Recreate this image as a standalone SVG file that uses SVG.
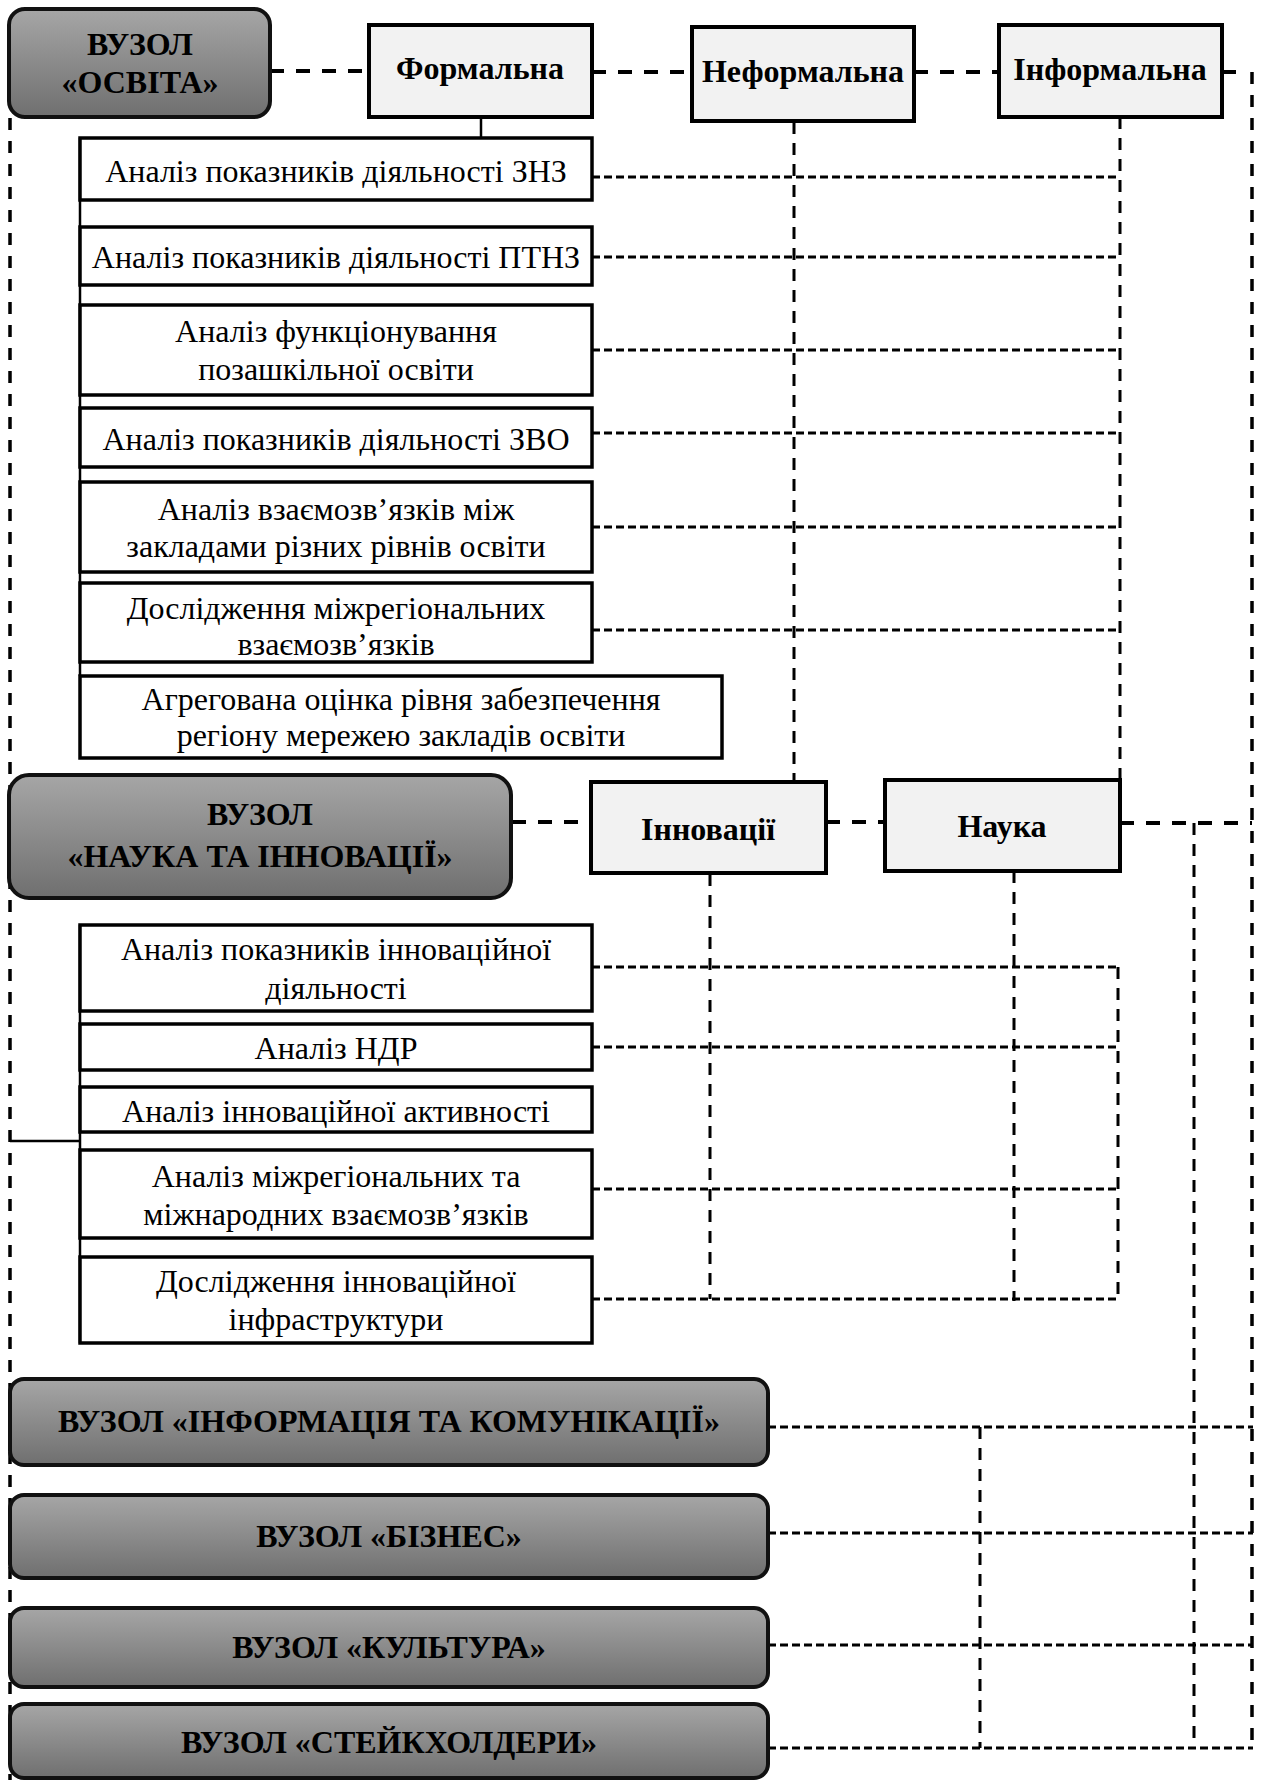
<svg xmlns="http://www.w3.org/2000/svg" width="1261" height="1780" viewBox="0 0 1261 1780">
<defs>
<linearGradient id="g" x1="0" y1="0" x2="0" y2="1">
<stop offset="0" stop-color="#a6a6a6"/>
<stop offset="1" stop-color="#6f6f6f"/>
</linearGradient>
<style>
.hub{fill:url(#g);stroke:#111;stroke-width:4}
.cat{fill:#f2f2f2;stroke:#000;stroke-width:4}
.item{fill:#fff;stroke:#000;stroke-width:3.5}
.ht{font-family:"Liberation Serif","Times New Roman",serif;font-weight:bold;font-size:32px;text-anchor:middle;fill:#000}
.it{font-family:"Liberation Serif","Times New Roman",serif;font-size:32px;text-anchor:middle;fill:#000}
.chain{fill:none;stroke:#000;stroke-width:4;stroke-dasharray:14 12}
.side{fill:none;stroke:#000;stroke-width:3.5;stroke-dasharray:12 11}
.vd{fill:none;stroke:#000;stroke-width:3;stroke-dasharray:12 9}
.hd{fill:none;stroke:#000;stroke-width:3;stroke-dasharray:8 4}
.sol{fill:none;stroke:#000;stroke-width:2.5}
</style>
</defs>
<g id="connectors">
<path class="side" d="M10 118V1780"/>
<path class="side" d="M1252 72V1748"/>
<path class="chain" d="M270 71H369"/>
<path class="chain" d="M592 72H692"/>
<path class="chain" d="M914 72H999"/>
<path class="chain" d="M1222 72H1240"/>
<path class="sol" d="M481 117V138"/>
<path class="sol" d="M80 138V676"/>
<path class="vd" d="M794 122V782"/>
<path class="vd" d="M1120 117V780"/>
<path class="hd" d="M592 177H1120M592 257H1120M592 350H1120M592 433H1120M592 527H1120M592 630H1120"/>
<path d="M492 822H512" stroke="#000" stroke-width="4"/>
<path class="chain" d="M512 822H591"/>
<path class="chain" d="M826 822H885"/>
<path class="chain" d="M1120 823H1252"/>
<path class="sol" d="M80 925V1343"/>
<path class="sol" d="M10 1141H80"/>
<path class="vd" d="M710 874V1299"/>
<path class="vd" d="M1014 871V1301"/>
<path class="vd" d="M1118 967V1299"/>
<path class="hd" d="M592 967H1118M592 1047H1118M592 1189H1118M592 1299H1118"/>
<path class="vd" d="M1194 823V1742"/>
<path class="vd" d="M980 1427V1748"/>
<path class="hd" d="M768 1427H1253M768 1533H1253M768 1645H1253M768 1748H1253"/>
</g>
<g id="hub-osvita"><rect class="hub" x="9" y="9" width="261" height="108" rx="16"/><text class="ht" x="140" y="55">ВУЗОЛ</text><text class="ht" x="140" y="93">«ОСВІТА»</text></g>
<g id="formalna"><rect class="cat" x="369" y="25" width="223" height="92"/><text class="ht" x="480" y="79">Формальна</text></g>
<g id="neformalna"><rect class="cat" x="692" y="27" width="222" height="94"/><text class="ht" x="803" y="82">Неформальна</text></g>
<g id="informalna"><rect class="cat" x="999" y="25" width="223" height="92"/><text class="ht" x="1110" y="80">Інформальна</text></g>
<g id="item1"><rect class="item" x="80" y="138" width="512" height="62"/><text class="it" x="336" y="182">Аналіз показників діяльності ЗНЗ</text></g>
<g id="item2"><rect class="item" x="80" y="227" width="512" height="58"/><text class="it" x="336" y="268">Аналіз показників діяльності ПТНЗ</text></g>
<g id="item3"><rect class="item" x="80" y="305" width="512" height="90"/><text class="it" x="336" y="342">Аналіз функціонування</text><text class="it" x="336" y="380">позашкільної освіти</text></g>
<g id="item4"><rect class="item" x="80" y="408" width="512" height="59"/><text class="it" x="336" y="450">Аналіз показників діяльності ЗВО</text></g>
<g id="item5"><rect class="item" x="80" y="482" width="512" height="90"/><text class="it" x="336" y="520">Аналіз взаємозв’язків між</text><text class="it" x="336" y="557">закладами різних рівнів освіти</text></g>
<g id="item6"><rect class="item" x="80" y="583" width="512" height="79"/><text class="it" x="336" y="619">Дослідження міжрегіональних</text><text class="it" x="336" y="655">взаємозв’язків</text></g>
<g id="item7"><rect class="item" x="80" y="676" width="642" height="82"/><text class="it" x="401" y="710">Агрегована оцінка рівня забезпечення</text><text class="it" x="401" y="746">регіону мережею закладів освіти</text></g>
<g id="hub-nauka"><rect class="hub" x="9" y="775" width="502" height="123" rx="20"/><text class="ht" x="260" y="825">ВУЗОЛ</text><text class="ht" x="260" y="867">«НАУКА ТА ІННОВАЦІЇ»</text></g>
<g id="innovatsii"><rect class="cat" x="591" y="782" width="235" height="91"/><text class="ht" x="708" y="840">Інновації</text></g>
<g id="nauka"><rect class="cat" x="885" y="780" width="235" height="91"/><text class="ht" x="1002" y="837">Наука</text></g>
<g id="item8"><rect class="item" x="80" y="925" width="512" height="86"/><text class="it" x="336" y="960">Аналіз показників інноваційної</text><text class="it" x="336" y="999">діяльності</text></g>
<g id="item9"><rect class="item" x="80" y="1024" width="512" height="46"/><text class="it" x="336" y="1059">Аналіз НДР</text></g>
<g id="item10"><rect class="item" x="80" y="1087" width="512" height="45"/><text class="it" x="336" y="1122">Аналіз інноваційної активності</text></g>
<g id="item11"><rect class="item" x="80" y="1150" width="512" height="88"/><text class="it" x="336" y="1187">Аналіз міжрегіональних та</text><text class="it" x="336" y="1225">міжнародних взаємозв’язків</text></g>
<g id="item12"><rect class="item" x="80" y="1257" width="512" height="86"/><text class="it" x="336" y="1292">Дослідження інноваційної</text><text class="it" x="336" y="1330">інфраструктури</text></g>
<g id="hub-info"><rect class="hub" x="10" y="1379" width="758" height="86" rx="14"/><text class="ht" x="389" y="1432">ВУЗОЛ «ІНФОРМАЦІЯ ТА КОМУНІКАЦІЇ»</text></g>
<g id="hub-biznes"><rect class="hub" x="10" y="1495" width="758" height="83" rx="14"/><text class="ht" x="389" y="1547">ВУЗОЛ «БІЗНЕС»</text></g>
<g id="hub-kultura"><rect class="hub" x="10" y="1608" width="758" height="79" rx="14"/><text class="ht" x="389" y="1658">ВУЗОЛ «КУЛЬТУРА»</text></g>
<g id="hub-stake"><rect class="hub" x="10" y="1704" width="758" height="74" rx="14"/><text class="ht" x="389" y="1753">ВУЗОЛ «СТЕЙКХОЛДЕРИ»</text></g>
</svg>
